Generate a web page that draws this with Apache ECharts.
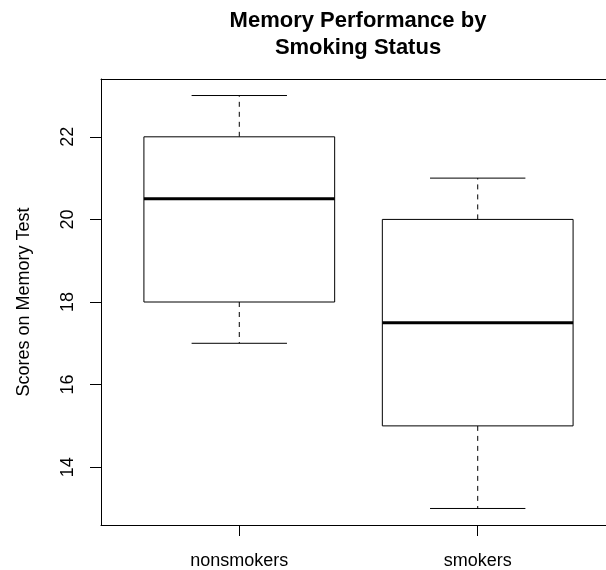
<!DOCTYPE html>
<html>
<head>
<meta charset="utf-8">
<script src="https://cdn.jsdelivr.net/npm/echarts@6/dist/echarts.min.js"></script>
<style>
	html, body { margin: 0; padding: 0; background: #fff; }
	#chartDiv { width: 606px; height: 570px; }
</style>
</head>
<body>
<div id="chartDiv"></div>
<script>
// box statistics
const groups = ['nonsmokers', 'smokers'];
const groupPos = [1, 2];
const lowerWhisker = [17, 13];
const lowerQuartile = [18, 15];
const medians = [20.5, 17.5];
const upperQuartile = [22, 20];
const upperWhisker = [23, 21];
const yTicks = [14, 16, 18, 20, 22];

const fontFamily = 'Liberation Sans, Arial, sans-serif';

let boxData = groupPos.map((x, i) => [x, lowerWhisker[i], lowerQuartile[i], medians[i], upperQuartile[i], upperWhisker[i]]);

let chart = echarts.init(document.getElementById('chartDiv'), null, { renderer: 'canvas' });

// R style box: white box, thick median, dashed whiskers, half-width caps
renderBox = (params, api) => {
	const x = api.value(0);
	const boxW = api.size([0.8, 0])[0];
	const capW = api.size([0.4, 0])[0];
	const c = api.coord([x, api.value(3)])[0];
	const yLo = api.coord([x, api.value(1)])[1];
	const yQ1 = api.coord([x, api.value(2)])[1];
	const yMed = api.coord([x, api.value(3)])[1];
	const yQ3 = api.coord([x, api.value(4)])[1];
	const yHi = api.coord([x, api.value(5)])[1];
	const thin = { stroke: '#000', lineWidth: 1 };
	const dashed = { stroke: '#000', lineWidth: 1, lineDash: [5, 5] };
	return {
		type: 'group',
		children: [
			{ type: 'line', shape: { x1: c, y1: yQ3, x2: c, y2: yHi }, style: dashed },
			{ type: 'line', shape: { x1: c, y1: yQ1, x2: c, y2: yLo }, style: dashed },
			{ type: 'line', shape: { x1: c - capW / 2, y1: yHi, x2: c + capW / 2, y2: yHi }, style: thin },
			{ type: 'line', shape: { x1: c - capW / 2, y1: yLo, x2: c + capW / 2, y2: yLo }, style: thin },
			{ type: 'rect', shape: { x: c - boxW / 2, y: yQ3, width: boxW, height: yQ1 - yQ3 }, style: { fill: '#fff', stroke: '#000', lineWidth: 1 } },
			{ type: 'line', shape: { x1: c - boxW / 2, y1: yMed, x2: c + boxW / 2, y2: yMed }, style: { stroke: '#000', lineWidth: 3 } }
		]
	};
}

let option = {
	animation: false,
	backgroundColor: '#fff',
	title: {
		text: 'Memory Performance by\nSmoking Status',
		left: 358,
		top: 7,
		padding: 0,
		textAlign: 'center',
		textStyle: {
			fontFamily: fontFamily,
			fontWeight: 'bold',
			fontSize: 22,
			lineHeight: 27,
			color: '#000'
		}
	},
	// plot frame runs past the right edge of the window, as in the reference
	grid: {
		left: 101,
		top: 79,
		width: 515,
		height: 446,
		outerBoundsMode: 'none',
		containLabel: false,
		show: false
	},
	xAxis: [{
		type: 'value',
		min: 0.42,
		max: 2.58,
		position: 'bottom',
		splitLine: { show: false },
		axisLine: { show: true, onZero: false, lineStyle: { color: '#000', width: 1 } },
		axisTick: {
			show: true,
			customValues: groupPos,
			length: 11,
			lineStyle: { color: '#000' }
		},
		axisLabel: {
			customValues: groupPos,
			formatter: (v) => groups[groupPos.indexOf(Math.round(v))] || '',
			margin: 27,
			fontFamily: fontFamily,
			fontSize: 18,
			color: '#000'
		}
	}, {
		type: 'value',
		min: 0.42,
		max: 2.58,
		position: 'top',
		splitLine: { show: false },
		axisLine: { show: true, onZero: false, lineStyle: { color: '#000', width: 1 } },
		axisTick: { show: false },
		axisLabel: { show: false }
	}],
	yAxis: {
		type: 'value',
		min: 12.6,
		max: 23.4,
		name: 'Scores on Memory Test',
		nameLocation: 'middle',
		nameRotate: 90,
		nameGap: 68,
		nameTextStyle: {
			fontFamily: fontFamily,
			fontSize: 18,
			color: '#000'
		},
		splitLine: { show: false },
		axisLine: { show: true, onZero: false, lineStyle: { color: '#000', width: 1 } },
		axisTick: {
			show: true,
			customValues: yTicks,
			length: 11,
			lineStyle: { color: '#000' }
		},
		axisLabel: {
			customValues: yTicks,
			rotate: 90,
			margin: 24,
			fontFamily: fontFamily,
			fontSize: 18,
			color: '#000'
		}
	},
	series: [{
		type: 'custom',
		renderItem: renderBox,
		data: boxData,
		clip: false,
		xAxisIndex: 0,
		encode: { x: 0, y: [1, 2, 3, 4, 5] }
	}]
};

chart.setOption(option);
</script>
</body>
</html>
